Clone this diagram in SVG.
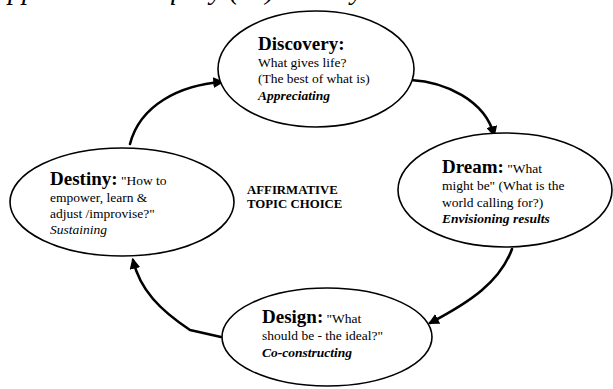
<svg xmlns="http://www.w3.org/2000/svg" width="613" height="389" viewBox="0 0 613 389">
<style>
.node ellipse{fill:#fff;stroke:#000;stroke-width:1.6}
text{font-family:"Liberation Serif","Times New Roman",serif;fill:#000}
.h{font-weight:bold;font-size:19px}
.r{font-size:13.5px}
.bi{font-weight:bold;font-style:italic;font-size:13.5px}
.i{font-style:italic;font-size:13.5px}
.c{font-weight:bold;font-size:12.8px}
.title{font-style:italic;font-size:28px}
#connectors path{fill:none;stroke:#000;stroke-width:2.6;stroke-linecap:round;stroke-linejoin:round}
</style>
<defs>
<marker id="ah" viewBox="0 0 10 10" refX="8" refY="5" markerWidth="4.2" markerHeight="4.2" orient="auto" markerUnits="strokeWidth">
<path d="M0,0 L10,5 L0,10 z" fill="#000"/>
</marker>
</defs>
<rect width="613" height="389" fill="#fff"/>
<text class="title" x="-9" y="-1">Appreciative Inquiry (AI) 4-D Cycle</text>
<g id="connectors">
<path d="M130,144 C140,105 180,85 222,82" marker-end="url(#ah)"/>
<path d="M411,80 C445,82 485,100 494,135" marker-end="url(#ah)"/>
<path d="M512,249 C500,282 470,302 430,323" marker-end="url(#ah)"/>
<path d="M221,337 L190,330 C160,310 140,290 133,260" marker-end="url(#ah)"/>
</g>
<g id="discovery" class="node">
<ellipse cx="316" cy="69" rx="98" ry="58"/>
<text class="h" x="258" y="50">Discovery:</text>
<text class="r" x="258" y="67">What gives life?</text>
<text class="r" x="258" y="83">(The best of what is)</text>
<text class="bi" x="258" y="100">Appreciating</text>
</g>
<g id="dream" class="node">
<ellipse cx="505" cy="190" rx="107" ry="57"/>
<text x="442" y="173"><tspan class="h">Dream:</tspan><tspan class="r"> "What</tspan></text>
<text class="r" x="442" y="190">might be" (What is the</text>
<text class="r" x="442" y="207">world calling for?)</text>
<text class="bi" x="442" y="223">Envisioning results</text>
</g>
<g id="destiny" class="node">
<ellipse cx="122" cy="202" rx="112" ry="54"/>
<text x="50" y="185"><tspan class="h">Destiny:</tspan><tspan class="r"> "How to</tspan></text>
<text class="r" x="50" y="202">empower, learn &amp;</text>
<text class="r" x="50" y="218">adjust /improvise?"</text>
<text class="i" x="50" y="234">Sustaining</text>
</g>
<g id="design" class="node">
<ellipse cx="327" cy="337" rx="105" ry="49"/>
<text x="262" y="323"><tspan class="h">Design:</tspan><tspan class="r"> "What</tspan></text>
<text class="r" x="262" y="340">should be - the ideal?"</text>
<text class="bi" x="262" y="357">Co-constructing</text>
</g>
<g id="center">
<text class="c" x="247" y="194">AFFIRMATIVE</text>
<text class="c" x="247" y="208">TOPIC CHOICE</text>
</g>
</svg>
